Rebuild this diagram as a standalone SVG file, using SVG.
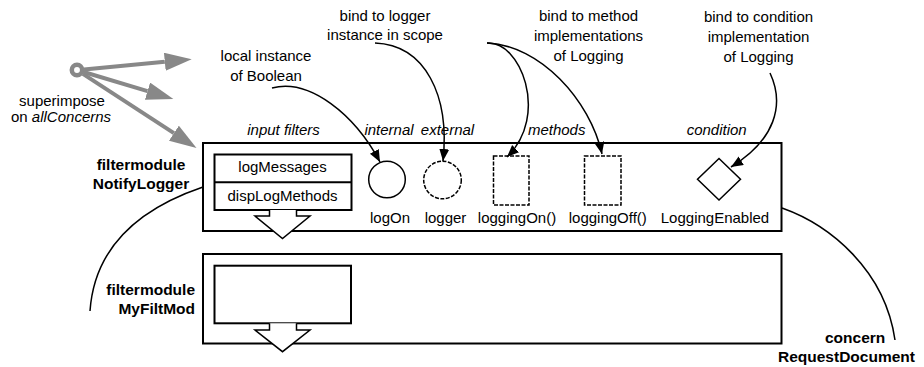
<svg xmlns="http://www.w3.org/2000/svg" width="924" height="367" viewBox="0 0 924 367">
<style>
text{font-family:"Liberation Sans",Arial,Helvetica,sans-serif;font-size:15px;fill:#000}
.b{font-weight:bold;font-size:15.5px}
.i{font-style:italic}
.m{text-anchor:middle}
.box{fill:#fff;stroke:#000;stroke-width:2}
.inner{fill:#fff;stroke:#000;stroke-width:2}
.dash{fill:#fff;stroke:#000;stroke-width:1.5;stroke-dasharray:4 1.5}
.solid{fill:#fff;stroke:#000;stroke-width:1.5}
.gray{fill:none;stroke:#888;stroke-width:4}
.blk{fill:none;stroke:#000;stroke-width:1.5}
</style>
<defs>
<marker id="ga" markerUnits="userSpaceOnUse" markerWidth="28" markerHeight="20" refX="0" refY="9" orient="auto">
<path d="M0,0 L27,9 L0,18 z" fill="#888"/>
</marker>
<marker id="ba" markerUnits="userSpaceOnUse" markerWidth="14" markerHeight="12" refX="12" refY="5" orient="auto">
<path d="M0,0 L12,5 L0,10 z" fill="#000"/>
</marker>
</defs>

<g id="superimpose">
<circle cx="77" cy="70" r="5.2" fill="#fff" stroke="#888" stroke-width="4.5"/>
<text class="m" x="62" y="106">superimpose</text>
<text x="11" y="122">on <tspan class="i">allConcerns</tspan></text>
</g>

<g id="filtermodule-notifylogger">
<rect class="box" x="203" y="143" width="578.5" height="88"/>
<text class="b m" x="141" y="170">filtermodule</text>
<text class="b m" x="141" y="189">NotifyLogger</text>
<text class="i m" x="283.5" y="134.5">input filters</text>
<text class="i m" x="389" y="134.5">internal</text>
<text class="i m" x="447.5" y="134.5">external</text>
<text class="i m" x="556.7" y="134.5">methods</text>
<text class="i m" x="716.7" y="134.5">condition</text>
</g>

<g id="input-filters">
<rect class="inner" x="214.5" y="154.5" width="137" height="55.5"/>
<line x1="214.5" y1="182.3" x2="351.5" y2="182.3" stroke="#000" stroke-width="2"/>
<text class="m" x="282.5" y="171.5">logMessages</text>
<text class="m" x="282.5" y="200.5">dispLogMethods</text>
<path d="M269.5,210 V216 H255 L282.5,238.5 L310,216 H296.5 V210" fill="#fff" stroke="#000" stroke-width="1.5"/>
</g>

<g id="logOn">
<circle class="solid" cx="387" cy="179.5" r="18.3"/>
<text class="m" x="390" y="223.3">logOn</text>
</g>
<g id="logger">
<circle class="dash" cx="442.5" cy="180" r="18.8" stroke-dasharray="3 1"/>
<text class="m" x="445.5" y="223.3">logger</text>
</g>
<g id="loggingOn">
<rect class="dash" x="493.5" y="156" width="35.5" height="49"/>
<text class="m" x="517" y="223.3">loggingOn()</text>
</g>
<g id="loggingOff">
<rect class="dash" x="584.5" y="156" width="36.5" height="49"/>
<text class="m" x="607.8" y="223.3">loggingOff()</text>
</g>
<g id="LoggingEnabled">
<path class="solid" d="M719,158.5 L740.5,179.3 L719,200 L697.5,179.3 z"/>
<text class="m" x="715" y="223.3">LoggingEnabled</text>
</g>

<g id="filtermodule-myfiltmod">
<rect class="box" x="203" y="254" width="578.5" height="89.5"/>
<rect class="inner" x="214.5" y="265.7" width="136.5" height="57.6"/>
<path d="M269.5,323.3 V330 H255 L282.5,351.7 L310,330 H296.5 V323.3" fill="#fff" stroke="#000" stroke-width="1.5"/>
<text class="b" x="195" y="295" text-anchor="end">filtermodule</text>
<text class="b" x="195" y="313.5" text-anchor="end">MyFiltMod</text>
</g>

<g id="concern">
<text class="b" x="825" y="343.3">concern</text>
<text class="b" x="778" y="361.7">RequestDocument</text>
</g>

<g id="annotations">
<text class="m" x="266" y="61">local instance</text>
<text class="m" x="266" y="80.5">of Boolean</text>
<text class="m" x="385" y="21">bind to logger</text>
<text class="m" x="385" y="40">instance in scope</text>
<text class="m" x="588.5" y="21">bind to method</text>
<text class="m" x="588.5" y="41">implementations</text>
<text class="m" x="588.5" y="61">of Logging</text>
<text class="m" x="758.5" y="21.5">bind to condition</text>
<text class="m" x="758.5" y="41.5">implementation</text>
<text class="m" x="758.5" y="61.5">of Logging</text>
</g>

<g id="connectors">
<line class="gray" x1="84" y1="69.4" x2="164.8" y2="61.8" marker-end="url(#ga)"/>
<line class="gray" x1="83.7" y1="72" x2="147.5" y2="91.2" marker-end="url(#ga)"/>
<line class="gray" x1="82.9" y1="73.8" x2="173.9" y2="133.2" marker-end="url(#ga)"/>
<path class="blk" d="M272,88 C310,78 355,115 380,162" marker-end="url(#ba)"/>
<path class="blk" d="M375,43 C425,45 450,95 443,161" marker-end="url(#ba)"/>
<path class="blk" d="M487,43 C520,40 550,115 507,157" marker-end="url(#ba)"/>
<path class="blk" d="M487,43 C540,45 590,100 602,154" marker-end="url(#ba)"/>
<path class="blk" d="M770,73 C785,105 775,140 731,167" marker-end="url(#ba)"/>
<path class="blk" d="M203,187 C150,205 95,240 90,311"/>
<path class="blk" d="M782,208 C830,225 885,270 895,340"/>
</g>
</svg>
